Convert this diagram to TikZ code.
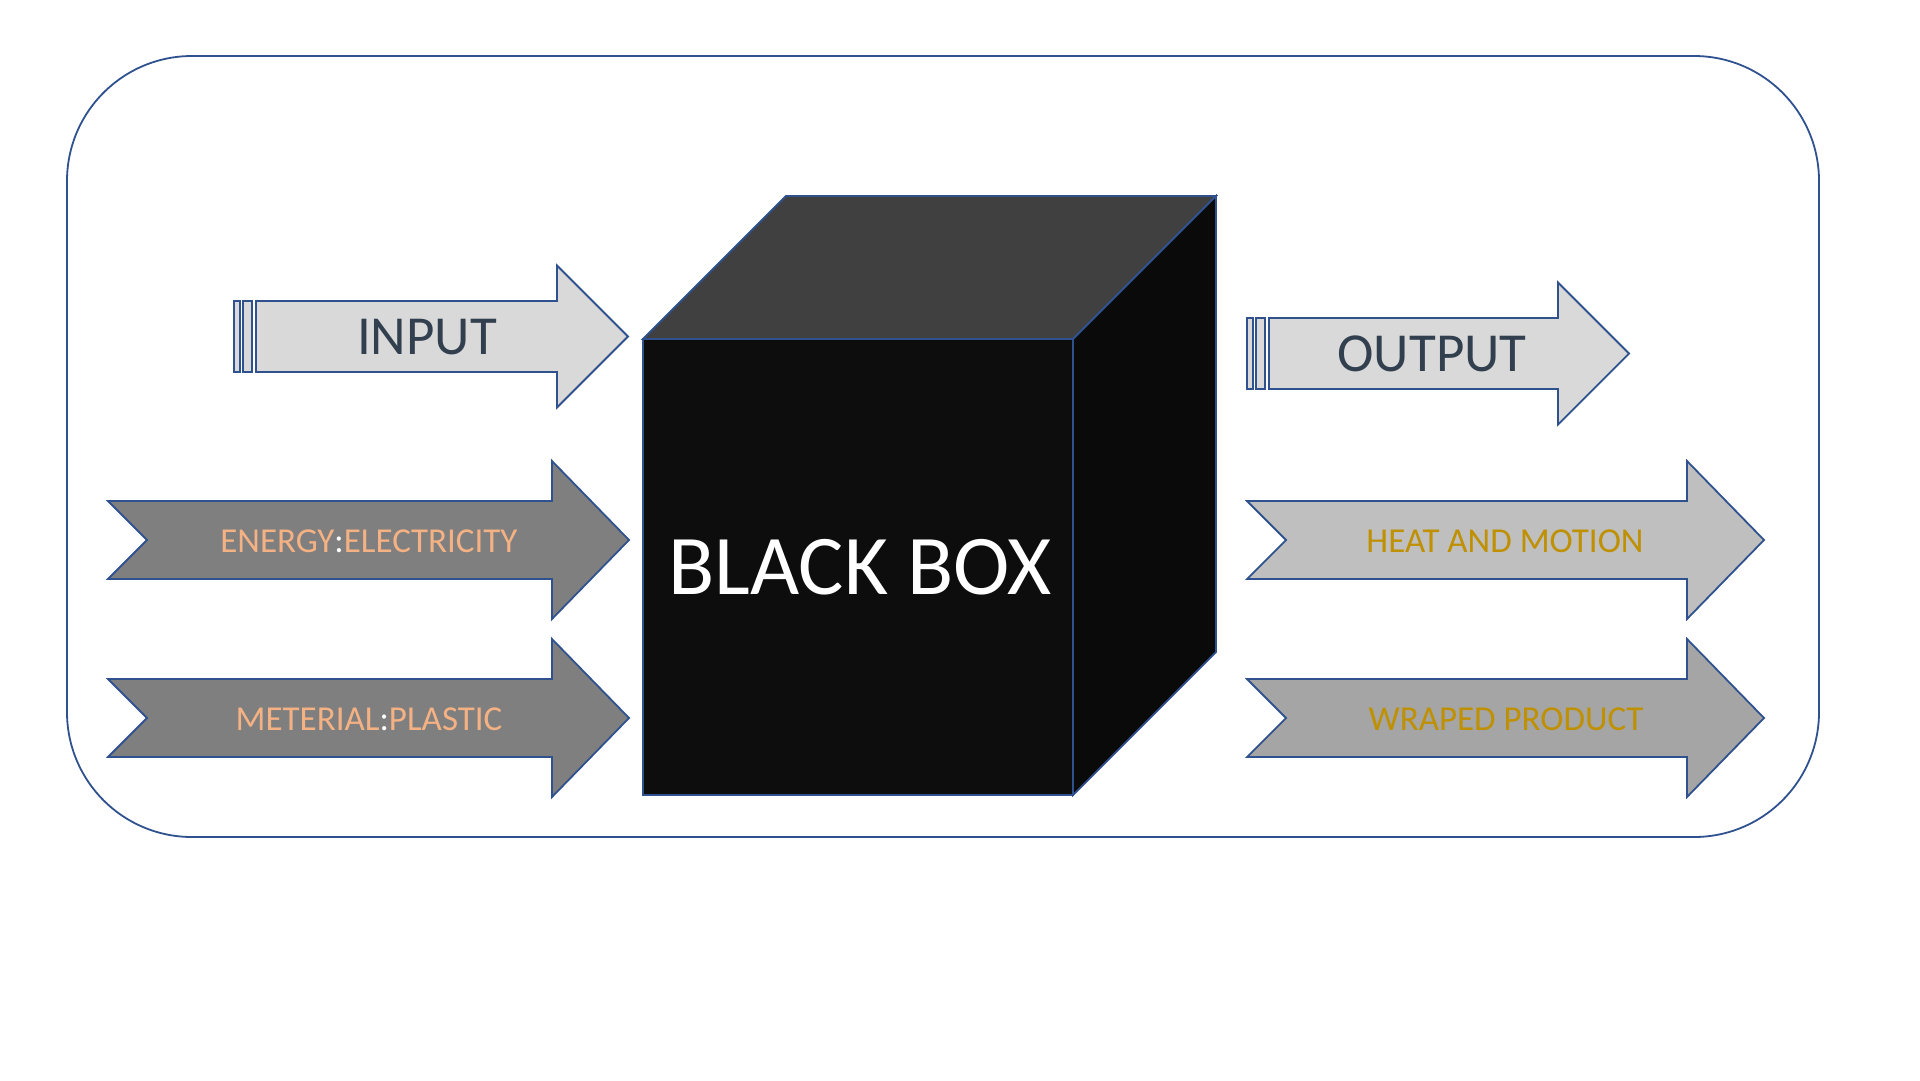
\documentclass[tikz,border=0pt]{standalone}
\usepackage{fontspec}
\setmainfont{Carlito}

\definecolor{rim}{RGB}{47,82,143}
\definecolor{lightarrow}{RGB}{217,217,217}
\definecolor{darkarrow}{RGB}{127,127,127}
\definecolor{heatarrow}{RGB}{191,191,191}
\definecolor{wraparrow}{RGB}{165,165,165}
\definecolor{slate}{RGB}{50,63,79}
\definecolor{peach}{RGB}{244,177,131}
\definecolor{gold}{RGB}{191,144,0}

\begin{document}
\begin{tikzpicture}[x=1pt,y=-1pt,
	edge/.style={draw=rim, line width=1.8pt, line join=miter},
	biglabel/.style={text=slate, font=\fontsize{55}{60}\selectfont, inner sep=0pt},
	inlabel/.style={text=peach, font=\fontsize{35}{40}\selectfont, inner sep=0pt},
	outlabel/.style={text=gold, font=\fontsize{35}{40}\selectfont, inner sep=0pt}]
	\useasboundingbox (0,0) rectangle (1920,1080);

	% frame
	\draw[edge, rounded corners=125pt] (67,56) rectangle (1819,837);

	% cube
	\filldraw[edge, fill=black!95] (643,339) rectangle (1073,795);
	\filldraw[edge, fill=black!75] (643,339) -- (786,196) -- (1216,196) -- (1073,339) -- cycle;
	\filldraw[edge, fill=black!96] (1073,339) -- (1216,196) -- (1216,652) -- (1073,795) -- cycle;

	% striped arrows
	\foreach \L/\H/\T/\Y in {234/557/628/336.5, 1247/1558/1629/353.5}{
		\filldraw[edge, fill=lightarrow] (\L,\Y-35.5) rectangle ++(6,71);
		\filldraw[edge, fill=lightarrow] (\L+9,\Y-35.5) rectangle ++(9,71);
		\filldraw[edge, fill=lightarrow] (\L+22,\Y-35.5) -- (\H,\Y-35.5) -- (\H,\Y-71)
			-- (\T,\Y) -- (\H,\Y+71) -- (\H,\Y+35.5) -- (\L+22,\Y+35.5) -- cycle;
	}

	% notched arrows
	\foreach \L/\H/\T/\Y/\C in {108/552/629/540/darkarrow, 108/552/629/718/darkarrow,
		1247/1687/1764/540/heatarrow, 1247/1687/1764/718/wraparrow}{
		\filldraw[edge, fill=\C] (\L,\Y-39) -- (\H,\Y-39) -- (\H,\Y-79) -- (\T,\Y)
			-- (\H,\Y+79) -- (\H,\Y+39) -- (\L,\Y+39) -- (\L+39,\Y) -- cycle;
	}

	\node[biglabel] (input) at (427,337) {INPUT};
	\node[biglabel] (output) at (1432,354) {OUTPUT};
	\node[text=white, font=\fontsize{85}{90}\selectfont, inner sep=0pt] (blackbox) at (860,567) {BLACK BOX};
	\node[inlabel] (energy) at (369,541) {ENERGY\textcolor{white}{:}ELECTRICITY};
	\node[inlabel] (material) at (369,719) {METERIAL\textcolor{white}{:}PLASTIC};
	\node[outlabel] (heat) at (1505,541) {HEAT AND MOTION};
	\node[outlabel] (product) at (1506,719) {WRAPED PRODUCT};
\end{tikzpicture}
\end{document}
